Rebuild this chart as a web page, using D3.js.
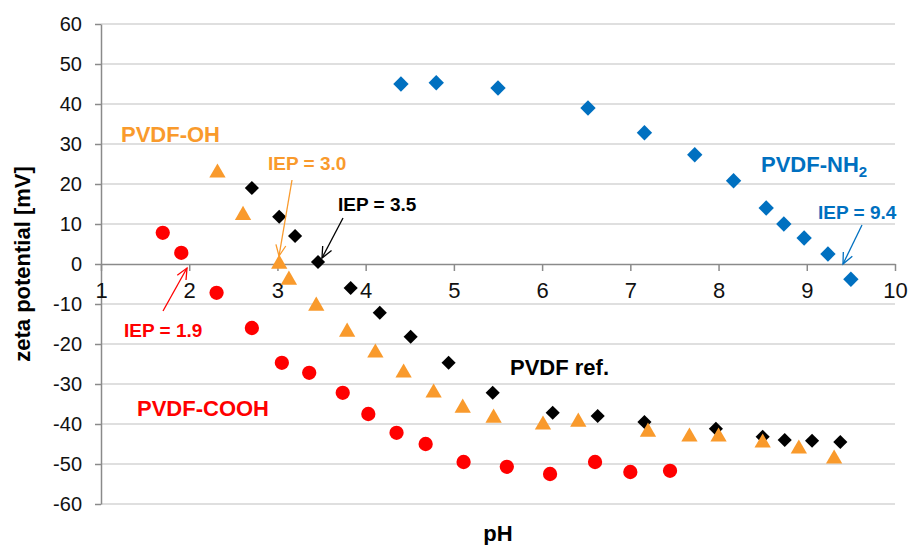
<!DOCTYPE html>
<html lang="en">
<head>
  <meta charset="utf-8" />
  <title>Zeta potential vs pH</title>
  <script src="https://d3js.org/d3.v7.min.js"></script>
  <style>
    body { margin: 0; padding: 0; background: #ffffff; font-family: "Liberation Sans", Arial, sans-serif; }
    .grid line { stroke: #d4d4d4; stroke-width: 1.5; }
    .axis path, .axis line { stroke: #8a8a8a; stroke-width: 1.5; fill: none; }
    .axis text { fill: #111; font-family: "Liberation Sans", Arial, sans-serif; }
    .label { font-weight: bold; font-family: "Liberation Sans", Arial, sans-serif; }
  </style>
</head>
<body>
<div id="chart"></div>
<script>
// ===== data =====
const phNH2   = [4.40, 4.80, 5.50, 6.52, 7.16, 7.73, 8.17, 8.54, 8.74, 8.97, 9.24, 9.50];
const zetaNH2 = [45.0, 45.3, 44.0, 39.0, 32.8, 27.3, 20.8, 14.0, 10.0, 6.5, 2.5, -3.8];

const phRef   = [2.71, 3.02, 3.20, 3.46, 3.83, 4.16, 4.51, 4.94, 5.44, 6.12, 6.63, 7.16, 7.97, 8.50, 8.75, 9.06, 9.38];
const zetaRef = [19.0, 11.8, 7.0, 0.5, -6.0, -12.2, -18.2, -24.7, -32.2, -37.2, -38.0, -39.5, -41.2, -43.2, -44.0, -44.2, -44.5];

const phOH    = [2.32, 2.61, 3.02, 3.13, 3.44, 3.79, 4.11, 4.43, 4.77, 5.10, 5.45, 6.01, 6.41, 7.20, 7.67, 8.00, 8.50, 8.91, 9.31];
const zetaOH  = [22.8, 12.2, 0.0, -4.0, -10.5, -17.0, -22.2, -27.2, -32.2, -36.0, -38.5, -40.2, -39.5, -42.0, -43.2, -43.2, -44.7, -46.2, -48.7];

const phCOOH   = [1.70, 1.91, 2.31, 2.71, 3.05, 3.36, 3.74, 4.03, 4.35, 4.68, 5.11, 5.60, 6.09, 6.60, 7.00, 7.45];
const zetaCOOH = [7.8, 2.8, -7.2, -16.0, -24.7, -27.2, -32.2, -37.5, -42.2, -45.0, -49.5, -50.7, -52.5, -49.5, -52.0, -51.7];

const xTicks = [1, 2, 3, 4, 5, 6, 7, 8, 9, 10];
const yTicks = [-60, -50, -40, -30, -20, -10, 0, 10, 20, 30, 40, 50, 60];

const colNH2 = "#0070c0", colRef = "#000000", colOH = "#f99a2c", colCOOH = "#ff0000";

// ===== setup =====
const W = 909, H = 545;
const margin = { top: 24, right: 14, bottom: 41, left: 101 };

const svg = d3.select("#chart").append("svg")
  .attr("width", W).attr("height", H);

const x = d3.scaleLinear().domain([1, 10]).range([margin.left, W - margin.right]);
const y = d3.scaleLinear().domain([-60, 60]).range([H - margin.bottom, margin.top]);

// arrow markers
const defs = svg.append("defs");
[["aRed", colCOOH], ["aOrange", colOH], ["aBlack", colRef], ["aBlue", colNH2]].forEach(([id, c]) => {
  defs.append("marker")
    .attr("id", id)
    .attr("viewBox", "-12 -7 14 14")
    .attr("refX", 0).attr("refY", 0)
    .attr("markerWidth", 14).attr("markerHeight", 14)
    .attr("markerUnits", "userSpaceOnUse")
    .attr("orient", "auto")
    .append("path")
      .attr("d", "M-11,-5 L0,0 L-11,5")
      .attr("fill", "none")
      .attr("stroke", c)
      .attr("stroke-width", 1.3);
});

// gridlines
svg.append("g").attr("class", "grid")
  .selectAll("line")
  .data(yTicks.filter(d => d !== 0))
  .enter().append("line")
    .attr("x1", x(1)).attr("x2", x(10))
    .attr("y1", d => y(d)).attr("y2", d => y(d));

// y axis (plain hyphen for negatives, like the original)
const yAxis = svg.append("g").attr("class", "axis")
  .attr("transform", `translate(${x(1)},0)`)
  .call(d3.axisLeft(y).tickValues(yTicks).tickFormat(d => String(d))
    .tickSize(6).tickPadding(13).tickSizeOuter(0));
yAxis.selectAll("text").style("font-size", "20px");

// x axis at zeta = 0
const xAxis = svg.append("g").attr("class", "axis")
  .attr("transform", `translate(0,${y(0)})`)
  .call(d3.axisBottom(x).tickValues(xTicks).tickFormat(d => String(d))
    .tickSize(7).tickPadding(11).tickSizeOuter(0));
xAxis.selectAll("text").style("font-size", "22px");

// axis titles
svg.append("text").attr("class", "label")
  .attr("transform", `translate(30,${y(0)}) rotate(-90)`)
  .attr("text-anchor", "middle")
  .style("font-size", "22px")
  .text("zeta potential [mV]");

svg.append("text").attr("class", "label")
  .attr("x", (x(1) + x(10)) / 2).attr("y", 541)
  .attr("text-anchor", "middle")
  .style("font-size", "22px")
  .text("pH");

// ===== markers =====
function drawSeries(ph, zeta, type, size, color, rotate) {
  const sym = d3.symbol().type(type).size(size);
  svg.append("g").selectAll("path")
    .data(ph.map((p, i) => [p, zeta[i]]))
    .enter().append("path")
      .attr("d", sym)
      .attr("fill", color)
      .attr("transform", d => `translate(${x(d[0])},${y(d[1])}) rotate(${rotate})`);
}

drawSeries(phNH2, zetaNH2, d3.symbolSquare, 118, colNH2, 45);
drawSeries(phCOOH, zetaCOOH, d3.symbolCircle, 160, colCOOH, 0);
drawSeries(phRef, zetaRef, d3.symbolSquare, 100, colRef, 45);
drawSeries(phOH, zetaOH, d3.symbolTriangle, 115, colOH, 0);

// ===== annotations =====
function label(txt, px, py, color, size) {
  return svg.append("text").attr("class", "label")
    .attr("x", px).attr("y", py)
    .attr("fill", color)
    .style("font-size", size + "px")
    .text(txt);
}
function arrow(x1, y1, x2, y2, color, id) {
  svg.append("line")
    .attr("x1", x1).attr("y1", y1).attr("x2", x2).attr("y2", y2)
    .attr("stroke", color).attr("stroke-width", 1.3)
    .attr("marker-end", `url(#${id})`);
}

label("PVDF-OH", 121, 142, colOH, 22);
label("PVDF-COOH", 137, 416, colCOOH, 22);
label("PVDF ref.", 510, 375, colRef, 22);
const nh = label("PVDF-NH", 761, 172, colNH2, 22);
nh.append("tspan").attr("dy", 5).style("font-size", "15px").text("2");

label("IEP = 3.0", 268, 170, colOH, 19);
label("IEP = 3.5", 338, 211, colRef, 19);
label("IEP = 1.9", 124, 337, colCOOH, 19);
label("IEP = 9.4", 818, 219, colNH2, 19);

arrow(292, 180, 279, 256, colOH, "aOrange");
arrow(343, 218, 322, 258, colRef, "aBlack");
arrow(163, 311, 187, 268, colCOOH, "aRed");
arrow(862, 225, 843, 264, colNH2, "aBlue");
</script>
</body>
</html>
